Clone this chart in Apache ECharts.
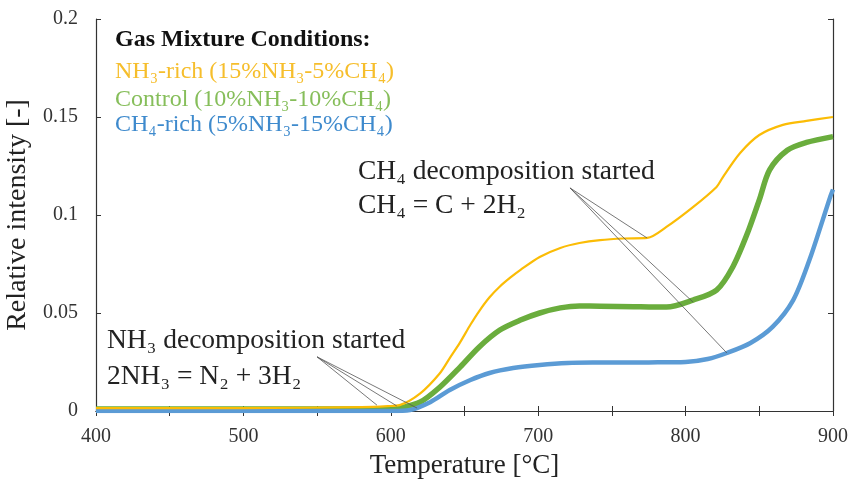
<!DOCTYPE html>
<html>
<head>
<meta charset="utf-8">
<script src="https://cdn.jsdelivr.net/npm/echarts@6/dist/echarts.min.js"></script>
<style>
  html, body { margin: 0; padding: 0; background: #fff; }
  #chart { width: 850px; height: 485px; }
</style>
</head>
<body>
<div id="chart"></div>
<script>
// temperature [°C] and relative intensity [-]
var nh3RichT = [400, 500, 580, 598, 606, 620, 633, 640, 647, 654, 660, 667, 674, 681, 688, 701, 715, 728, 742, 758, 774, 787, 805, 821, 825, 837, 850, 866, 882, 900]
var nh3RichV = [0.0015, 0.0015, 0.002, 0.0025, 0.003, 0.009, 0.019, 0.027, 0.035, 0.044, 0.051, 0.058, 0.0635, 0.068, 0.072, 0.0786, 0.0832, 0.0857, 0.0872, 0.088, 0.0883, 0.0939, 0.104, 0.1143, 0.119, 0.1316, 0.1408, 0.146, 0.148, 0.150]

var controlT = [400, 580, 600, 606, 620, 633, 647, 660, 674, 688, 701, 715, 728, 742, 765, 787, 805, 821, 832, 842, 850, 857, 869, 882, 900]
var controlV = [0.001, 0.001, 0.0012, 0.0015, 0.0046, 0.012, 0.0224, 0.0327, 0.0413, 0.0464, 0.050, 0.0526, 0.0536, 0.0535, 0.0532, 0.053, 0.0566, 0.0617, 0.0735, 0.0908, 0.1077, 0.123, 0.133, 0.137, 0.140]

var ch4RichT = [400, 600, 613, 627, 640, 654, 667, 683, 701, 720, 742, 775, 800, 815, 828, 844, 859, 873, 884, 893, 898, 900]
var ch4RichV = [0, 0, 0.0005, 0.0046, 0.0107, 0.0158, 0.0194, 0.0219, 0.0235, 0.0245, 0.0247, 0.0248, 0.025, 0.0265, 0.0296, 0.0347, 0.0429, 0.0566, 0.077, 0.0974, 0.109, 0.113]

// leader lines: [start, end] in data coords
var nh3Leaders = [
  [[550, 0.0276], [590.6, 0.003]],
  [[550, 0.0276], [604, 0.0026]],
  [[550, 0.0276], [617.8, 0.0015]]
]
var ch4Leaders = [
  [[721.6, 0.1138], [773.8, 0.0883]],
  [[721.6, 0.1138], [805, 0.0556]],
  [[721.6, 0.1138], [828, 0.0296]]
]

var serif = '"Liberation Serif", "Times New Roman", "DejaVu Serif", serif'
var cYellow = '#FBBC05'
var cGreen = '#6AAD3D'
var cBlue = '#5B9BD5'

function zip (xs, ys) {
  return xs.map(function (x, i) { return [x, ys[i]] })
}

function leaderData (list) {
  return list.map(function (p) {
    return [{ coord: p[0] }, { coord: p[1] }]
  })
}

var chart = echarts.init(document.getElementById('chart'))

var xCommon = {
  type: 'value',
  min: 400,
  max: 900,
  interval: 50,
  splitLine: { show: false },
  axisLine: { show: true, lineStyle: { color: '#333', width: 1.2 } },
  axisTick: { show: true, inside: true, length: 5, lineStyle: { color: '#333' } }
}
var yCommon = {
  type: 'value',
  min: 0,
  max: 0.2,
  interval: 0.05,
  splitLine: { show: false },
  axisLine: { show: true, lineStyle: { color: '#333', width: 1.2 } },
  axisTick: { show: true, inside: true, length: 5, lineStyle: { color: '#333' } }
}

var option = {
  animation: false,
  backgroundColor: '#fff',
  grid: { left: 96, right: 17, top: 19, bottom: 74, containLabel: false, outerBoundsMode: 'none' },
  xAxis: [
    Object.assign({}, xCommon, {
      position: 'bottom',
      name: 'Temperature [°C]',
      nameLocation: 'middle',
      nameGap: 41,
      nameTextStyle: { fontFamily: serif, fontSize: 27, color: '#222' },
      axisLabel: {
        margin: 16,
        fontFamily: serif,
        fontSize: 20,
        color: '#333',
        formatter: function (v) { return v % 100 === 0 ? String(v) : '' }
      }
    }),
    Object.assign({}, xCommon, { position: 'top', axisLabel: { show: false } })
  ],
  yAxis: [
    Object.assign({}, yCommon, {
      position: 'left',
      name: 'Relative intensity [-]',
      nameLocation: 'middle',
      nameGap: 52,
      nameTextStyle: { fontFamily: serif, fontSize: 28, color: '#222' },
      axisLabel: { margin: 18, fontFamily: serif, fontSize: 20, color: '#333' }
    }),
    Object.assign({}, yCommon, { position: 'right', axisLabel: { show: false } })
  ],
  series: [
    {
      name: 'NH3-rich',
      type: 'line',
      data: zip(nh3RichT, nh3RichV),
      smooth: 0.3,
      showSymbol: false,
      lineStyle: { color: cYellow, width: 2.2 },
      z: 3
    },
    {
      name: 'Control',
      type: 'line',
      data: zip(controlT, controlV),
      smooth: 0.3,
      showSymbol: false,
      lineStyle: { color: cGreen, width: 5.5 },
      z: 2
    },
    {
      name: 'CH4-rich',
      type: 'line',
      data: zip(ch4RichT, ch4RichV),
      smooth: 0.3,
      showSymbol: false,
      lineStyle: { color: cBlue, width: 4.5 },
      z: 2,
      markLine: {
        silent: true,
        symbol: 'none',
        label: { show: false },
        lineStyle: { color: '#555', width: 0.8, type: 'solid' },
        data: leaderData(nh3Leaders).concat(leaderData(ch4Leaders))
      }
    }
  ],
  graphic: [
    {
      type: 'text', left: 115, top: 28,
      style: { text: 'Gas Mixture Conditions:', font: 'bold 24px ' + serif, fill: '#111' }
    },
    {
      type: 'text', left: 115, top: 60,
      style: { text: 'NH₃-rich (15%NH₃-5%CH₄)', font: '24px ' + serif, fill: '#F6BE2C' }
    },
    {
      type: 'text', left: 115, top: 87.5,
      style: { text: 'Control (10%NH₃-10%CH₄)', font: '24px ' + serif, fill: '#86BE5A' }
    },
    {
      type: 'text', left: 115, top: 112.5,
      style: { text: 'CH₄-rich (5%NH₃-15%CH₄)', font: '24px ' + serif, fill: '#3E8ACD' }
    },
    {
      type: 'text', left: 358, top: 158,
      style: { text: 'CH₄ decomposition started', font: '27.5px ' + serif, fill: '#222' }
    },
    {
      type: 'text', left: 358, top: 192,
      style: { text: 'CH₄ = C + 2H₂', font: '27.5px ' + serif, fill: '#222' }
    },
    {
      type: 'text', left: 107, top: 327,
      style: { text: 'NH₃ decomposition started', font: '27.5px ' + serif, fill: '#222' }
    },
    {
      type: 'text', left: 107, top: 363,
      style: { text: '2NH₃ = N₂ + 3H₂', font: '27.5px ' + serif, fill: '#222' }
    }
  ]
}

chart.setOption(option)
</script>
</body>
</html>
